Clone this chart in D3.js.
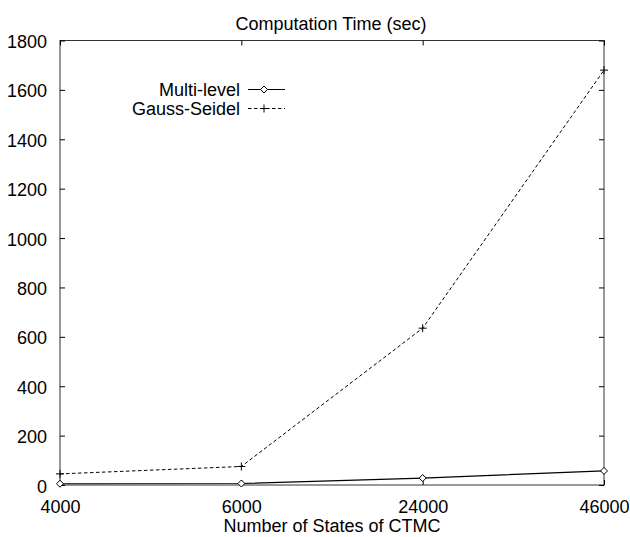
<!DOCTYPE html>
<html><head><meta charset="utf-8">
<script src="https://cdn.jsdelivr.net/npm/d3@7"></script>
<style>
html,body{margin:0;padding:0;background:#fff;}
text{font-family:"Liberation Sans",Arial,Helvetica,sans-serif;fill:#000;}
</style></head>
<body><svg id="c" width="630" height="537"></svg>
<script>
const categories = ["4000","6000","24000","46000"];
const multiLevel = [5, 6, 28, 57];
const gaussSeidel = [45, 75, 635, 1680];
const yTicks = [0,200,400,600,800,1000,1200,1400,1600,1800];
const seriesNames = ["Multi-level","Gauss-Seidel"];
const titleText = "Computation Time (sec)";
const xLabelText = "Number of States of CTMC";

const svg = d3.select("#c");
const L=60, R=604, T=40.5, B=485;
const x = d3.scalePoint().domain(categories).range([L,R]);
const y = d3.scaleLinear().domain([0,1800]).range([B,T]);
const fs = 18, sy = 1.0;

// frame
svg.append("rect").attr("x",L).attr("y",T).attr("width",R-L).attr("height",B-T)
  .attr("fill","none").attr("stroke","#333").attr("stroke-width",1);

// axes
const gl = svg.append("g").attr("transform",`translate(${L},0)`)
  .call(d3.axisLeft(y).tickValues(yTicks).tickSize(-5).tickPadding(13).tickFormat(d3.format("d")));
const gr = svg.append("g").attr("transform",`translate(${R},0)`)
  .call(d3.axisRight(y).tickValues(yTicks).tickSize(-5).tickFormat(""));
const gb = svg.append("g").attr("transform",`translate(0,${B})`)
  .call(d3.axisBottom(x).tickSize(-5).tickPadding(15));
const gt = svg.append("g").attr("transform",`translate(0,${T})`)
  .call(d3.axisTop(x).tickSize(-5).tickFormat(""));
[gl,gr,gb,gt].forEach(g=>{
  g.select(".domain").remove();
  g.selectAll("line").attr("stroke","#000");
  g.selectAll("text").attr("font-size",fs).attr("font-family","Liberation Sans, Arial, sans-serif").attr("fill","#000");
});
gl.selectAll("text").attr("dy",null).attr("y",0)
  .attr("transform",`translate(0,7) scale(1,${sy})`);
gb.selectAll("text").attr("dy",null).attr("y",0)
  .attr("transform",`translate(0,28) scale(1,${sy})`);

function stretchedText(g,tx,ty,anchor,str){
  return g.append("text").attr("transform",`translate(${tx},${ty}) scale(1,${sy})`)
    .attr("text-anchor",anchor).attr("font-size",fs).text(str);
}
stretchedText(svg,331,29.5,"middle",titleText);
stretchedText(svg,332,532,"middle",xLabelText);

const line = d3.line().x((d,i)=>x(categories[i])).y(d=>y(d));
const dash = "3.5,2.5";

svg.append("path").datum(gaussSeidel).attr("d",line).attr("fill","none")
  .attr("stroke","#000").attr("stroke-width",1).attr("stroke-dasharray",dash);
function plus(g,cx,cy){
  g.append("path").attr("d",`M${cx-4},${cy}H${cx+4}M${cx},${cy-4}V${cy+4}`)
   .attr("stroke","#000").attr("stroke-width",1).attr("fill","none");
}
function diamond(g,cx,cy){
  g.append("path").attr("d",`M${cx-3.5},${cy}L${cx},${cy-3.5}L${cx+3.5},${cy}L${cx},${cy+3.5}Z`)
   .attr("stroke","#000").attr("stroke-width",1).attr("fill","#fff");
}
svg.append("path").datum(multiLevel).attr("d",line).attr("fill","none")
  .attr("stroke","#000").attr("stroke-width",1.2);
const mk = svg.append("g");
gaussSeidel.forEach((v,i)=>plus(mk,x(categories[i]),y(v)));
multiLevel.forEach((v,i)=>diamond(mk,x(categories[i]),y(v)));

const legY = [89.5,108.5];
const lg = svg.append("g");
seriesNames.forEach((n,i)=>{
  stretchedText(lg,240,legY[i]+6.5,"end",n);
  const ln = lg.append("line").attr("x1",248).attr("x2",285).attr("y1",legY[i]).attr("y2",legY[i])
    .attr("stroke","#000").attr("stroke-width",i===0?1.2:1);
  if(i===1) ln.attr("stroke-dasharray",dash);
  if(i===0) diamond(lg,264,legY[i]); else plus(lg,264,legY[i]);
});
</script></body></html>
